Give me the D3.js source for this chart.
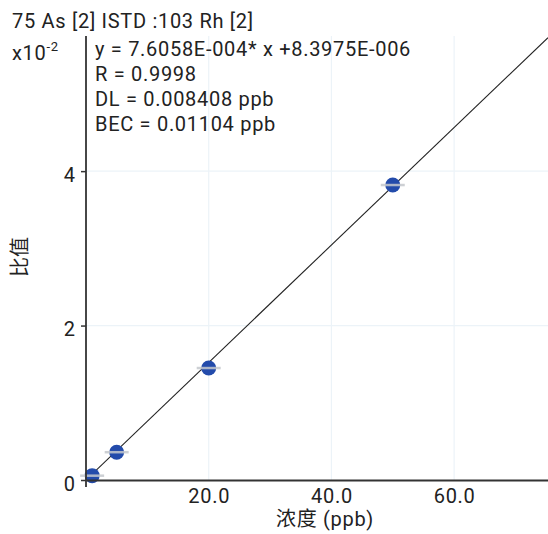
<!DOCTYPE html>
<html>
<head>
<meta charset="utf-8">
<script src="https://cdn.jsdelivr.net/npm/d3@7"></script>
<style>
  html, body { margin: 0; padding: 0; background: #fff; }
  svg { display: block; font-family: Roboto, 'Noto Sans CJK SC', sans-serif; }
</style>
</head>
<body>
<script>
// calibration standards: concentration (ppb) and ratio (x10^-2)
const concentrations = [1, 5, 20, 50];
const ratios = [0.056, 0.36, 1.45, 3.82];
const xTicks = [20, 40, 60];
const yTicks = [0, 2, 4];
const slope = 7.6058e-4;
const intercept = 8.3975e-6;
const title = '75 As [2] ISTD :103 Rh [2]';
const eqLines = [
  'y = 7.6058E-004* x +8.3975E-006',
  'R = 0.9998',
  'DL = 0.008408 ppb',
  'BEC = 0.01104 ppb'
];

const width = 548;
const height = 534;
const plotLeft = 86, plotRight = 548, plotTop = 36, plotBottom = 480;
const fontSize = 20;
const spacing = '0.7px';

const svg = d3.select('body')
  .append('svg')
  .attr('width', width)
  .attr('height', height);

const x = d3.scaleLinear().domain([0, 75.3]).range([plotLeft, plotRight]);
const y = d3.scaleLinear().domain([0, 5.75]).range([plotBottom, plotTop]);

svg.append('defs').append('clipPath')
  .attr('id', 'plot')
  .append('rect')
  .attr('x', plotLeft)
  .attr('y', plotTop)
  .attr('width', plotRight - plotLeft)
  .attr('height', plotBottom - plotTop);

// grid
svg.append('g')
  .selectAll('line')
  .data(xTicks)
  .enter()
  .append('line')
  .attr('x1', d => x(d))
  .attr('x2', d => x(d))
  .attr('y1', plotTop)
  .attr('y2', plotBottom)
  .attr('stroke', '#ecf3f8')
  .attr('stroke-width', 1.2);

svg.append('g')
  .selectAll('line')
  .data(yTicks.filter(d => d > 0))
  .enter()
  .append('line')
  .attr('x1', plotLeft)
  .attr('x2', plotRight)
  .attr('y1', d => y(d))
  .attr('y2', d => y(d))
  .attr('stroke', '#ecf3f8')
  .attr('stroke-width', 1.2);

// points
const plot = svg.append('g').attr('clip-path', 'url(#plot)');
const pts = concentrations.map((c, i) => ({ c, r: ratios[i] }));

svg.append('g')
  .selectAll('circle')
  .data(pts)
  .enter()
  .append('circle')
  .attr('cx', d => x(d.c))
  .attr('cy', d => y(d.r))
  .attr('r', 7.5)
  .attr('fill', '#234bab');

svg.append('g')
  .selectAll('line')
  .data(pts)
  .enter()
  .append('line')
  .attr('x1', d => x(d.c) - 12)
  .attr('x2', d => x(d.c) + 12)
  .attr('y1', d => y(d.r))
  .attr('y2', d => y(d.r))
  .attr('stroke', '#c4c8cc')
  .attr('stroke-opacity', 0.85)
  .attr('stroke-width', 2.5);

// regression line
const fit = d => (slope * d + intercept) * 100;
plot.append('line')
  .attr('x1', x(0))
  .attr('y1', y(fit(0)))
  .attr('x2', x(75.3))
  .attr('y2', y(fit(75.3)))
  .attr('stroke', '#222')
  .attr('stroke-width', 1.1);

// axes
const xAxis = d3.axisBottom(x).tickValues(xTicks).tickFormat(d3.format('.1f')).tickSize(0).tickPadding(9);
const yAxis = d3.axisLeft(y).tickValues(yTicks).tickFormat(d3.format('d')).tickSize(5).tickPadding(6);

const gx = svg.append('g')
  .attr('transform', `translate(0, ${plotBottom})`)
  .call(xAxis);
gx.select('.domain').attr('stroke', '#333').attr('stroke-width', 1.8);
gx.selectAll('text')
  .attr('font-size', fontSize)
  .attr('letter-spacing', spacing)
  .attr('fill', '#222')
  .attr('font-family', 'Roboto');

const gy = svg.append('g')
  .attr('transform', `translate(${plotLeft}, 0)`)
  .call(yAxis);
gy.select('.domain').attr('stroke', '#333').attr('stroke-width', 1.8)
  .attr('d', `M0,${plotTop}V${plotBottom + 7}`);
gy.selectAll('.tick line').attr('stroke', '#333').attr('stroke-width', 1.5);
gy.selectAll('text')
  .attr('font-size', fontSize)
  .attr('dy', '0.5em')
  .attr('fill', '#222')
  .attr('font-family', 'Roboto');

// labels
svg.append('text')
  .attr('x', 12)
  .attr('y', 28)
  .attr('font-size', fontSize)
  .attr('letter-spacing', spacing)
  .attr('fill', '#222')
  .text(title);

const exp = svg.append('text')
  .attr('x', 12)
  .attr('y', 60)
  .attr('font-size', fontSize)
  .attr('letter-spacing', spacing)
  .attr('fill', '#222');
exp.append('tspan').text('x10');
exp.append('tspan').attr('dy', -9).attr('font-size', 13).text('-2');

svg.append('g')
  .selectAll('text')
  .data(eqLines)
  .enter()
  .append('text')
  .attr('x', 95)
  .attr('y', (d, i) => 56 + i * 25)
  .attr('font-size', fontSize)
  .attr('letter-spacing', spacing)
  .attr('fill', '#222')
  .text(d => d);

svg.append('text')
  .attr('transform', 'translate(27, 257) rotate(-90)')
  .attr('text-anchor', 'middle')
  .attr('font-size', fontSize)
  .attr('font-family', "'Noto Sans CJK SC'")
  .attr('fill', '#222')
  .text('比值');

svg.append('text')
  .attr('x', 325)
  .attr('y', 526)
  .attr('text-anchor', 'middle')
  .attr('font-size', fontSize)
  .attr('letter-spacing', spacing)
  .attr('fill', '#222')
  .text('浓度 (ppb)');
</script>
</body>
</html>
